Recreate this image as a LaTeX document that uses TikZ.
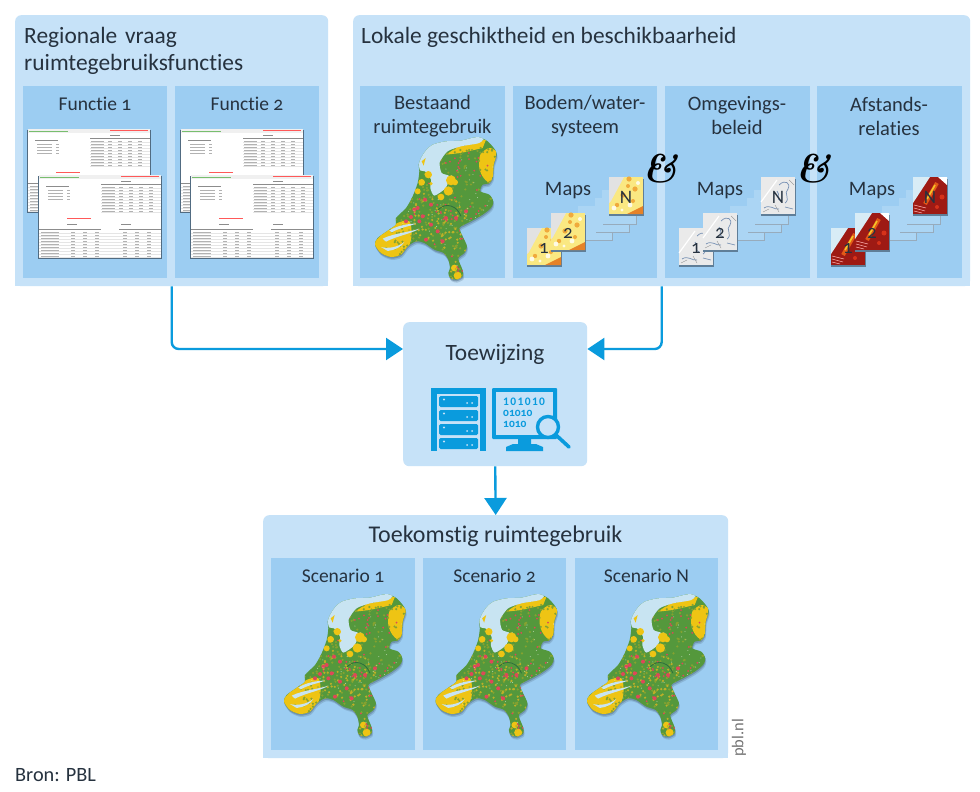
\documentclass[tikz,border=0pt]{standalone}
\usepackage{fontspec}
\usetikzlibrary{arrows.meta,calc}
\newfontfamily\labelfont[Numbers=OldStyle,Ligatures=NoCommon]{Carlito}
\definecolor{outerc}{HTML}{C6E2F8}
\definecolor{innerc}{HTML}{9CCDF2}
\definecolor{arrowc}{HTML}{0A9BDD}
\definecolor{inkc}{HTML}{26323F}
\definecolor{blankc}{HTML}{ABD5F4}
\definecolor{shadowc}{HTML}{5F7E98}
\definecolor{mgreen}{RGB}{84,152,60}
\definecolor{molive}{RGB}{134,162,48}
\definecolor{mmust}{RGB}{190,176,40}
\definecolor{myell}{RGB}{238,196,20}
\definecolor{mred}{RGB}{222,72,88}
\definecolor{mwater}{RGB}{200,228,242}
\tikzset{
  outerp/.style={fill=outerc,anchor=north west,inner sep=0pt,rounded corners=6pt},
  innerp/.style={fill=innerc,anchor=north west,inner sep=0pt},
  lbl/.style={font=\labelfont\fontsize{20.5}{24}\selectfont,text=inkc,align=center,inner sep=0pt},
  lblf/.style={font=\labelfont\fontsize{19.5}{24}\selectfont,text=inkc,align=center,inner sep=0pt},
  lblh/.style={font=\labelfont\fontsize{23.4}{27}\selectfont,text=inkc,align=left,inner sep=0pt},
  conn/.style={draw=arrowc,line width=2.4pt,rounded corners=7pt,-{Triangle[length=17pt,width=22pt]}},
  amp/.style={font=\itshape\bfseries\fontsize{40}{40}\selectfont,text=black,inner sep=0pt},
  tilelbl/.style={font=\labelfont\fontsize{19}{19}\selectfont,text=inkc,inner sep=0pt},
  cell/.style={draw=black!30,line width=.45pt},
  celld/.style={draw=black!45,line width=.8pt},
  icon/.style={fill=arrowc,draw=none}
}
\newcommand\rnda[1]{mod(abs(sin(#1*12.71)*9973),1)}
\newcommand\rndb[1]{mod(abs(sin(#1*21.17+11)*8861),1)}
\def\nloutline{plot[smooth cycle,tension=.45] coordinates {(205,235) (203,215) (210,195) (225,172) (245,155) (285,145) (330,143) (380,132) (410,145) (432,170) (437,185) (428,215) (425,255) (412,272) (395,275) (388,295) (415,305) (427,325) (420,345) (395,365) (360,385) (340,395) (325,405) (335,430) (348,460) (340,480) (322,495) (328,515) (335,532) (335,550) (315,560) (298,555) (292,540) (297,525) (292,500) (278,480) (250,470) (220,450) (195,445) (170,460) (150,485) (120,492) (90,480) (72,455) (80,435) (115,410) (135,395) (135,375) (165,345) (185,310) (200,270)}}
\newcommand\nlmap[2]{%
  \begin{scope}[shift={(#1,#2)},x=.3333pt,y=-.3333pt]
    \fill[shadowc,opacity=.3] [shift={(3,9)}] \nloutline;
    \fill[shadowc,opacity=.6] [shift={(1,5)}] \nloutline;
    \fill[mgreen] \nloutline;
    \begin{scope}
      \clip \nloutline;
      % yellow soils
      \fill[myell] plot[smooth cycle] coordinates {(388,185) (415,165) (438,180) (430,225) (420,270) (398,255) (385,225)};
      \fill[myell] (285,185) -- (330,155) -- (405,140) -- (395,165) -- (330,180) -- cycle;
      \fill[myell] plot[smooth cycle] coordinates {(70,450) (130,395) (175,385) (180,440) (150,495) (85,490)};
      \fill[myell] (310,525) circle (10) (320,548) circle (12);
      % mottling
      \foreach \i in {1,...,360}{\pgfmathsetmacro\rx{100+340*\rnda{\i}}\pgfmathsetmacro\ry{150+410*\rndb{\i}}\fill[molive] (\rx,\ry) circle (3.6);}
      \foreach \i in {361,...,460}{\pgfmathsetmacro\rx{170+180*\rnda{\i}}\pgfmathsetmacro\ry{300+260*\rndb{\i}}\fill[mmust] (\rx,\ry) circle (3.6);}
      % towns
      \foreach \i in {461,...,535}{\pgfmathsetmacro\rx{185+245*\rnda{\i}}\pgfmathsetmacro\ry{170+370*\rndb{\i}}\fill[mred] (\rx,\ry) circle (3);}
      \foreach \p in {(222,320),(200,345),(180,372),(165,385),(215,370),(240,395),(190,350),(205,385),(240,335),(275,445),(260,415),(225,440),(315,375),(345,355),(285,375)}{\fill[mred] \p circle (6);}
      \foreach \i in {536,...,600}{\pgfmathsetmacro\rx{150+280*\rnda{\i}}\pgfmathsetmacro\ry{200+320*\rndb{\i}}\fill[white,opacity=.55] (\rx,\ry) circle (1.6);}
      \draw[color={rgb,255:red,46;green,110;blue,60},line width=.8pt] (262,350) .. controls (285,325) and (320,340) .. (330,370);
      % water
      \fill[mwater] plot[smooth cycle,tension=.4] coordinates {(207,232) (205,200) (240,153) (330,140) (400,130) (385,150) (330,160) (290,175) (266,208) (272,240) (295,250) (284,285) (250,308) (238,285) (240,260) (222,235)};
      \fill[myell] (212,205) -- (224,195) -- (218,218) -- cycle;
      \fill[myell] (300,262) circle (15) (312,268) circle (9) (292,294) circle (14) (270,312) circle (10);
      \fill[myell] (232,245) circle (11) (212,268) circle (10) (200,295) circle (9) (240,272) circle (5);
      \fill[mwater] (115,412) .. controls (140,398) and (170,392) .. (195,392) .. controls (172,401) and (150,403) .. (122,418) -- cycle;
      \fill[mwater] (95,437) .. controls (130,420) and (175,418) .. (205,407) .. controls (185,421) and (140,428) .. (105,446) -- cycle;
      \fill[mwater] (90,462) .. controls (110,468) and (140,463) .. (160,447) .. controls (152,462) and (130,472) .. (110,474) -- cycle;
    \end{scope}
  \end{scope}}
\newcommand\sheet[2]{%
  \begin{scope}[shift={(#1,#2)}]
    \fill[shadowc!85!black] (-1,1) rectangle (123,84);
    \fill[white] (0,0) rectangle (122,82);
    \fill[black!6] (0,0) rectangle (122,4);
    \draw[color={rgb,255:red,120;green,190;blue,110},line width=.9pt] (1,2) -- (40,2);
    \draw[red!65,line width=.7pt] (82,1.5) -- (120,1.5);
    \draw[celld] (82,6) -- (92,6) (7,11) -- (30,11);
    \foreach \y in {15,18,21,24}{\draw[cell] (9,\y) -- (24,\y) (28,\y) -- (31,\y);}
    \draw[celld] (62,9) -- (122,9);
    \foreach \y in {12,15,...,38}{
      \draw[black!10,line width=.25pt] (62,\y+1.2) -- (122,\y+1.2);
      \draw[cell] (63,\y) -- (76,\y) (80,\y) -- (84,\y) (90,\y) -- (94,\y) (100,\y) -- (104,\y) (110,\y) -- (114,\y);}
    \draw[red!65,line width=.7pt] (28,43) -- (52,43);
    \draw[celld] (28,49) -- (38,49) (82,49) -- (92,49) (0,54) -- (62,54) (80,54) -- (122,54);
    \foreach \y in {57,60,...,81}{
      \draw[black!10,line width=.25pt] (0,\y+1.2) -- (122,\y+1.2);
      \draw[cell] (2,\y) -- (20,\y) (32,\y) -- (36,\y) (44,\y) -- (48,\y) (56,\y) -- (60,\y) (84,\y) -- (88,\y) (96,\y) -- (100,\y) (108,\y) -- (112,\y);}
  \end{scope}}
\newcommand\tileY{%
  \fill[color={rgb,255:red,250;green,232;blue,130}] (0,0) rectangle (34,37);
  \fill[color={rgb,255:red,226;green,226;blue,226}] (0,0) -- (15,0) -- (2,24) -- (0,26) -- cycle;
  \fill[color={rgb,255:red,230;green,130;blue,40}] (34,37) -- (18,37) -- (34,29) -- cycle;
  \fill[color={rgb,255:red,240;green,170;blue,60}] (20,2) circle (2.6) (26,12) circle (2.6) (14,18) circle (2.6) (8,28) circle (2.2) (19,9) circle (2) (24,24) circle (2);
  \fill[white,opacity=.8] (5,31) circle (2.4) (29,6) circle (2) (21,28) circle (2.4) (13,33) circle (1.6);}
\newcommand\tileG{%
  \fill[color={rgb,255:red,234;green,234;blue,234}] (0,0) rectangle (34,37);
  \draw[white,line width=1.2pt] (0,25) -- (16,3);
  \draw[color={rgb,255:red,120;green,145;blue,180},line width=.7pt] (18,8) .. controls (24,2) and (30,6) .. (27,12) .. controls (22,16) and (30,22) .. (24,26) (16,14) .. controls (20,18) and (14,22) .. (20,24) (3,31) .. controls (9,27) and (13,33) .. (18,32) (24,30) -- (32,32);
  \draw[black!45,line width=.35pt] (2,35) -- (8,32) (28,3) -- (33,8) (14,28) -- (18,35);}
\newcommand\tileR{%
  \fill[color={rgb,255:red,158;green,26;blue,20}] (0,0) rectangle (34,37);
  \fill[color={rgb,255:red,216;green,236;blue,246}] (0,0) -- (17,0) -- (0,26) -- cycle;
  \fill[white] (25,0) -- (34,0) -- (34,8) -- cycle;
  \draw[color={rgb,255:red,226;green,90;blue,24},line width=4pt] (12,27) -- (24,6);
  \draw[color={rgb,255:red,244;green,196;blue,40},line width=1.6pt] (14,22) -- (22,8);
  \draw[white!70!red,line width=.5pt] (1,28) -- (13,31) (1,31) -- (12,34) (1,34) -- (9,36);
  \fill[color={rgb,255:red,214;green,50;blue,26}] (29,20) circle (2.5) (24,30) circle (2);}
\newcommand\tile[4]{%
  \begin{scope}[shift={(#1,#2)}]
    \fill[shadowc] (-.5,1.5) rectangle (35,38.5);
    #3
    \node[tilelbl] (tile-#1-#2) at (17,20) {#4};
  \end{scope}}
\newcommand\blank[2]{%
  \begin{scope}[shift={(#1,#2)}]
    \fill[shadowc!65] (1,1.5) rectangle (34.8,35);
    \fill[blankc] (0,0) rectangle (34,34);
  \end{scope}}
\newcommand\tileset[3]{%
  \blank{#1+578}{206}\blank{#1+595}{198}\blank{#1+602}{190}
  \tile{#1+609}{177}{#2}{N}
  \tile{#1+527}{228}{#2}{1}
  \tile{#1+551}{213}{#2}{2}
  \node[lbl] (#3) at (#1+568,190.5) {Maps};}
\begin{document}
\begin{tikzpicture}[x=1pt,y=-1pt]
\useasboundingbox (0,0) rectangle (980,792);
\fill[white] (0,0) rectangle (980,792);
% top left
\node[outerp,minimum width=313pt,minimum height=271pt] (regio) at (15,15) {};
\fill[outerc] (15,270) rectangle (328,286);
\node[lblh,anchor=west,text width=280pt] (regiot) at (24,51) {Regionale vraag\\ruimtegebruiksfuncties};
\node[innerp,minimum width=144pt,minimum height=192pt] (f1) at (23,86) {};
\node[innerp,minimum width=144pt,minimum height=192pt] (f2) at (175,86) {};
\node[lblf] (f1t) at (95,103.5) {Functie 1};
\node[lblf] (f2t) at (247,103.5) {Functie 2};
\sheet{28}{129}\sheet{39}{175}
\sheet{181}{129}\sheet{191}{175}
% top right
\node[outerp,minimum width=617pt,minimum height=271pt] (lokaal) at (353,15) {};
\fill[outerc] (353,270) rectangle (970,286);
\node[lblh,anchor=west] (lokaalt) at (361,37) {Lokale geschiktheid en beschikbaarheid};
\node[innerp,minimum width=145pt,minimum height=192pt] (p1) at (360,86) {};
\node[innerp,minimum width=144pt,minimum height=192pt] (p2) at (513,86) {};
\node[innerp,minimum width=145pt,minimum height=192pt] (p3) at (665,86) {};
\node[innerp,minimum width=145pt,minimum height=192pt] (p4) at (817,86) {};
\node[lbl] (p1t) at (432.5,116) {Bestaand\\ruimtegebruik};
\node[lbl] (p2t) at (585,116) {Bodem/water-\\systeem};
\node[lbl] (p3t) at (737,116) {Omgevings-\\beleid};
\node[lbl] (p4t) at (889,116) {Afstands-\\relaties};
\nlmap{351}{93}
\tileset{0}{\tileY}{m2}
\tileset{152}{\tileG}{m3}
\tileset{304}{\tileR}{m4}
\node[amp] (amp1) at (660,169) {\&};
\node[amp] (amp2) at (813,169) {\&};
% allocation
\node[outerp,minimum width=184pt,minimum height=144pt] (toe) at (403,322) {};
\node[lbl,font=\labelfont\fontsize{23.4}{24}\selectfont] (toet) at (495,354) {Toewijzing};
\coordinate (toeL) at ($(toe.north west)+(0,27)$);
\coordinate (toeR) at ($(toe.north east)+(0,27)$);
% server
\fill[icon] (431,388) rectangle (486,451);
\fill[outerc] (437,394) rectangle (480,451);
\foreach \y in {396,410,424,438}{
  \fill[arrowc,rounded corners=1.5pt] (439,\y) rectangle (478,\y+11);
  \fill[outerc] (444,\y+3.5) circle (1.2) (467,\y+7) circle (1) (472,\y+7) circle (1);
}
% monitor
\fill[icon,rounded corners=1pt] (492,388) rectangle (557,439);
\fill[outerc] (496,392) rectangle (553,435);
\fill[icon] (518,439) rectangle (531,444) (506,447) -- (513,444) -- (536,444) -- (543,447) -- (543,451) -- (506,451) -- cycle;
\node[font=\labelfont\bfseries\fontsize{11.5}{11}\selectfont,text=arrowc,align=left,anchor=north west,inner sep=0pt] (bin) at (503,397.5) {\addfontfeatures{Numbers=Lining,LetterSpace=12}101010\\01010\\1010};
\draw[arrowc,line width=3.4pt,fill=outerc] (548,427) circle (10.5);
\draw[arrowc,line width=3.6pt,line cap=round] (556,435) -- (569,447);
% result
\node[outerp,minimum width=465pt,minimum height=243pt] (toek) at (263,515) {};
\fill[outerc] (263,740) rectangle (728,758);
\node[lbl,font=\labelfont\fontsize{24}{24}\selectfont] (toekt) at (495.5,536) {Toekomstig ruimtegebruik};
\node[innerp,minimum width=144pt,minimum height=192pt] (s1) at (271,558) {};
\node[innerp,minimum width=143pt,minimum height=192pt] (s2) at (423,558) {};
\node[innerp,minimum width=143pt,minimum height=192pt] (s3) at (575,558) {};
\node[lblf] (s1t) at (343,575.5) {Scenario 1};
\node[lblf] (s2t) at (494.5,575.5) {Scenario 2};
\node[lblf] (s3t) at (646.5,575.5) {Scenario N};
\nlmap{260}{550}
\nlmap{411.5}{550}
\nlmap{563}{550}
% connectors
\draw[conn] (regio.south) |- (toeL);
\draw[conn] (lokaal.south) |- (toeR);
\draw[conn] (toe.south) -- (toek.north);
% footers
\node[font=\labelfont\fontsize{16.5}{16}\selectfont,text=black!55,rotate=90,inner sep=0pt] (pbl) at (739,738) {pbl.nl};
\node[font=\labelfont\fontsize{20.3}{19}\selectfont,text=inkc,anchor=west,inner sep=0pt] (bron) at (15,775) {Bron: PBL};
\end{tikzpicture}
\end{document}
